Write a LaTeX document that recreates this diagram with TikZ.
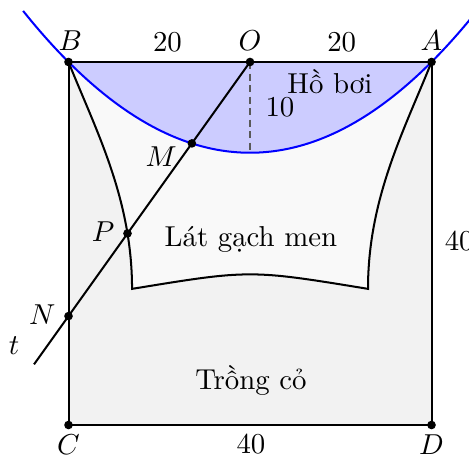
\documentclass[tikz,border=0pt]{standalone}
\usetikzlibrary{intersections,calc}
\begin{document}
\begin{tikzpicture}[x=0.1107cm,y=0.1107cm,
  dot/.style={circle,fill=black,inner sep=0pt,minimum size=3pt},
  edge/.style={line width=0.7pt},
  pt/.style={inner sep=0pt}]
\clip (-27.55,-43.53) rectangle (24.13,6.83);
\coordinate (O) at (0,0);
\coordinate (B) at (-20,0);
\coordinate (A) at (20,0);
\coordinate (C) at (-20,-40);
\coordinate (D) at (20,-40);
\coordinate (V) at (0,-10);
\coordinate (L) at (-13,-25);
\coordinate (R) at (13,-25);
\coordinate (N) at (-20,-28);
\coordinate (T) at ($(O)!1.19!(N)$);
% regions
\fill[gray!10] (B) rectangle (D);
\fill[gray!5] (B) .. controls (-17,-7.5) and (-13,-15) .. (L)
   .. controls (0,-22.87) and (0,-22.87) .. (R)
   .. controls (13,-15) and (17,-7.5) .. (A) -- cycle;
\fill[blue!20] (A) -- plot[domain=20:-20,samples=80] (\x,{\x*\x/40-10}) -- cycle;
% tile border
\draw[edge,name path=tile] (B) .. controls (-17,-7.5) and (-13,-15) .. (L)
   .. controls (0,-22.87) and (0,-22.87) .. (R)
   .. controls (13,-15) and (17,-7.5) .. (A);
% square
\draw[edge] (B) -- (A) -- (D) -- (C) -- cycle;
% parabola
\draw[blue,edge,name path=para] plot[domain=-25:25,samples=120] (\x,{\x*\x/40-10});
\draw[gray!70!black,line width=0.6pt,dash pattern=on 2.5pt off 1.5pt] (O) -- (V);
% line t
\draw[edge,name path=tline] (O) -- (T);
\path[name intersections={of=tline and tile,by=P}];
\path[name intersections={of=tline and para,by=M}];
% dots
\foreach \p in {A,B,O,C,D,N,P,M} \node[dot] at (\p) {};
% labels
\node at (-19.8,2.3) {$B$};
\node at (0,2.3) {$O$};
\node at (20,2.3) {$A$};
\node at (-20,-42.2) {$C$};
\node at (20,-42.2) {$D$};
\node at (-9.8,-10.4) {$M$};
\node at (-16.2,-18.7) {$P$};
\node at (-22.9,-27.8) {$N$};
\node at (-26,-31.3) {$t$};
\node at (-9.1,2.2) {20};
\node at (10.1,2.2) {20};
\node at (0.1,-42.1) {40};
\node[anchor=west,inner sep=0pt] at (21.4,-19.7) {40};
\node at (3.3,-5) {10};
\node at (8.8,-2.2) {Hồ bơi};
\node at (0.1,-19.6) {Lát gạch men};
\node at (0.1,-35.1) {Trồng cỏ};
\end{tikzpicture}
\end{document}
